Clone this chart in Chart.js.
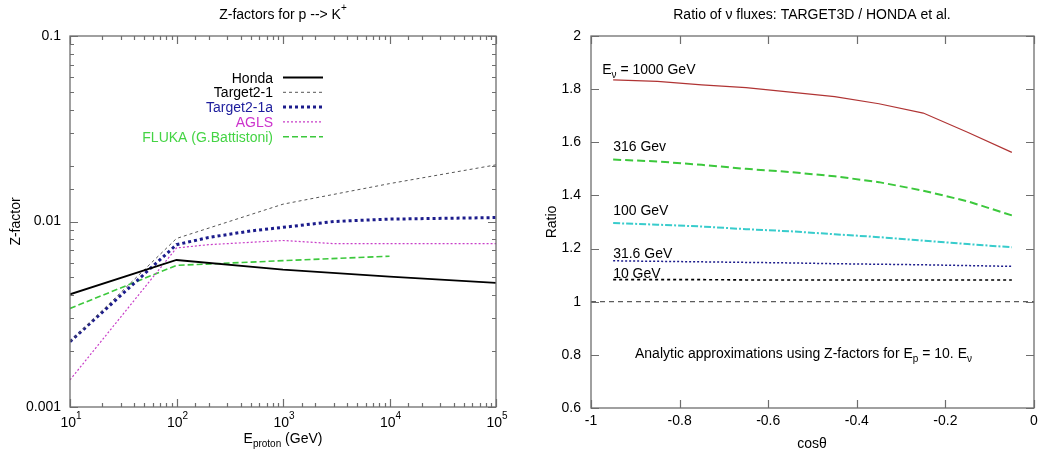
<!DOCTYPE html>
<html>
<head>
<meta charset="utf-8">
<title>Z-factors and neutrino flux ratios</title>
<script src="https://cdn.jsdelivr.net/npm/chart.js@4.4.1/dist/chart.umd.min.js"></script>
<style>
  body { margin: 0; background: #fff; }
  .panel { position: absolute; top: 0; height: 452px; }
  #left { left: 0; width: 520px; }
  #right { left: 520px; width: 519px; }
</style>
</head>
<body>
<div class="panel" id="left"><canvas id="zChart"></canvas></div>
<div class="panel" id="right"><canvas id="ratioChart"></canvas></div>
<script>
// Z-factors for p --> K+ versus proton energy (GeV)
var hondaE = [10, 100, 1000, 1e4, 1e5];
var hondaZ = [0.00405, 0.0062, 0.0055, 0.00505, 0.00467];
var target21E = [10, 100, 1000, 1e4, 1e5];
var target21Z = [0.00225, 0.0081, 0.0124, 0.0160, 0.0202];
var target21aE = [10, 100, 200, 500, 1000, 3000, 1e4, 1e5];
var target21aZ = [0.00225, 0.0075, 0.0082, 0.0089, 0.0093, 0.0100, 0.0103, 0.0105];
var aglsE = [10, 100, 200, 1000, 3000, 1e4, 1e5];
var aglsZ = [0.0014, 0.0072, 0.0075, 0.0079, 0.0076, 0.0076, 0.0076];
var flukaE = [10, 100, 1000, 1e4];
var flukaZ = [0.0034, 0.0058, 0.00615, 0.0065];
var zTickValues = [0.001, 0.01, 0.1];
var zTickLabels = ['0.001', '0.01', '0.1'];
var eTickExps = [1, 2, 3, 4, 5];

// Flux ratio TARGET3D / HONDA versus cos(theta)
var cosTheta = [-0.95, -0.85, -0.75, -0.65, -0.55, -0.45, -0.35, -0.25, -0.15, -0.05];
var ratio1000 = [1.835, 1.829, 1.816, 1.806, 1.789, 1.772, 1.745, 1.71, 1.638, 1.562];
var ratio316 = [1.535, 1.528, 1.515, 1.50, 1.488, 1.472, 1.45, 1.418, 1.378, 1.325];
var ratio100 = [1.296, 1.29, 1.283, 1.273, 1.265, 1.254, 1.243, 1.23, 1.217, 1.205];
var ratio31 = [1.154, 1.152, 1.15, 1.148, 1.146, 1.143, 1.141, 1.139, 1.136, 1.133];
var ratio10 = [1.083, 1.083, 1.083, 1.082, 1.082, 1.082, 1.082, 1.082, 1.082, 1.082];
var unityX = [-1, 0];
var unityY = [1, 1];

var FONT = "'Liberation Sans', Arial, Helvetica, sans-serif";
var FRAME = '#6e6e6e';

function pts(xs, ys) {
  return xs.map(function (x, i) { return { x: x, y: ys[i] }; });
}

function isDecade(v) {
  var e = Math.log10(v);
  return Math.abs(e - Math.round(e)) < 1e-6;
}

// text runs: [string, '' | 'sub' | 'sup']
function drawRich(ctx, parts, x, y, align, size) {
  var small = Math.round(size * 0.72);
  var widths = parts.map(function (p) {
    ctx.font = (p[1] ? small : size) + 'px ' + FONT;
    return ctx.measureText(p[0]).width;
  });
  var total = widths.reduce(function (a, b) { return a + b; }, 0);
  var cx = align === 'center' ? x - total / 2 : (align === 'right' ? x - total : x);
  ctx.textAlign = 'left';
  parts.forEach(function (p, i) {
    ctx.font = (p[1] ? small : size) + 'px ' + FONT;
    var dy = p[1] === 'sub' ? size * 0.32 : (p[1] === 'sup' ? -size * 0.55 : 0);
    ctx.fillText(p[0], cx, y + dy);
    cx += widths[i];
  });
}

// gnuplot-like box with inward ticks on all four sides
var frameTicks = {
  id: 'frameTicks',
  afterDatasetsDraw: function (chart) {
    var ctx = chart.ctx, a = chart.chartArea;
    ctx.save();
    ctx.setLineDash([]);
    ctx.strokeStyle = FRAME;
    ctx.lineWidth = 1.2;
    ctx.beginPath();
    ['x', 'y'].forEach(function (id) {
      var s = chart.scales[id];
      var log = s.type === 'logarithmic';
      s.getTicks().forEach(function (t) {
        var len = (!log || isDecade(t.value)) ? 8 : 4;
        var p = Math.round(s.getPixelForValue(t.value)) + 0.5;
        if (id === 'x') {
          ctx.moveTo(p, a.bottom); ctx.lineTo(p, a.bottom - len);
          ctx.moveTo(p, a.top); ctx.lineTo(p, a.top + len);
        } else {
          ctx.moveTo(a.left, p); ctx.lineTo(a.left + len, p);
          ctx.moveTo(a.right, p); ctx.lineTo(a.right - len, p);
        }
      });
    });
    ctx.stroke();
    ctx.lineWidth = 1.3;
    ctx.strokeRect(a.left, a.top, a.right - a.left, a.bottom - a.top);
    ctx.restore();
  }
};

function fixAxis(size) {
  return function (s) {
    if (s.isHorizontal()) { s.height = size; } else { s.width = size; }
    s.paddingLeft = s.paddingRight = s.paddingTop = s.paddingBottom = 0;
  };
}

// ---------- left panel ----------
var zText = {
  id: 'zText',
  afterDraw: function (chart) {
    var ctx = chart.ctx, a = chart.chartArea, x = chart.scales.x;
    ctx.save();
    ctx.fillStyle = '#000';
    ctx.textBaseline = 'alphabetic';
    drawRich(ctx, [['Z-factors for p --> K', ''], ['+', 'sup']], 283, 19, 'center', 14);
    drawRich(ctx, [['E', ''], ['proton', 'sub'], [' (GeV)', '']], 283, 443, 'center', 14);
    eTickExps.forEach(function (e) {
      drawRich(ctx, [['10', ''], [String(e), 'sup']], x.getPixelForValue(Math.pow(10, e)) + 1, 427, 'center', 14);
    });
    ctx.translate(16, (a.top + a.bottom) / 2);
    ctx.rotate(-Math.PI / 2);
    ctx.textBaseline = 'middle';
    drawRich(ctx, [['Z-factor', '']], 0, 0, 'center', 14);
    ctx.restore();

    // legend: right-aligned labels with line samples
    ctx.save();
    ctx.textBaseline = 'alphabetic';
    chart.data.datasets.forEach(function (ds, i) {
      var ly = 77.5 + i * 14.8;
      ctx.fillStyle = ds.labelColor;
      drawRich(ctx, [[ds.label, '']], 273, ly + 5, 'right', 14);
      ctx.strokeStyle = ds.borderColor;
      ctx.lineWidth = ds.borderWidth;
      ctx.setLineDash(ds.borderDash || []);
      ctx.beginPath();
      ctx.moveTo(283, ly);
      ctx.lineTo(323, ly);
      ctx.stroke();
    });
    ctx.restore();
  }
};

new Chart(document.getElementById('zChart').getContext('2d'), {
  type: 'scatter',
  data: {
    datasets: [
      { label: 'Honda', data: pts(hondaE, hondaZ), borderColor: '#000000', labelColor: '#000000',
        borderWidth: 1.8 },
      { label: 'Target2-1', data: pts(target21E, target21Z), borderColor: '#555555', labelColor: '#000000',
        borderWidth: 1, borderDash: [3, 3] },
      { label: 'Target2-1a', data: pts(target21aE, target21aZ), borderColor: '#1c1c8c', labelColor: '#1c1c9c',
        borderWidth: 3, borderDash: [3, 3] },
      { label: 'AGLS', data: pts(aglsE, aglsZ), borderColor: '#c83ec8', labelColor: '#cc33cc',
        borderWidth: 1.2, borderDash: [2, 2] },
      { label: 'FLUKA (G.Battistoni)', data: pts(flukaE, flukaZ), borderColor: '#3cc83c', labelColor: '#44d444',
        borderWidth: 1.6, borderDash: [6, 3] }
    ]
  },
  options: {
    responsive: true,
    maintainAspectRatio: false,
    animation: false,
    showLine: true,
    elements: { point: { radius: 0, hoverRadius: 0 }, line: { tension: 0 } },
    layout: { padding: { top: 36, right: 24, left: 0, bottom: 0 } },
    plugins: { legend: { display: false }, tooltip: { enabled: false } },
    scales: {
      x: {
        type: 'logarithmic', min: 10, max: 1e5,
        grid: { display: false, drawTicks: false }, border: { display: false },
        ticks: { display: false, autoSkip: false },
        afterFit: fixAxis(45)
      },
      y: {
        type: 'logarithmic', min: 0.001, max: 0.1,
        grid: { display: false, drawTicks: false }, border: { display: false },
        ticks: {
          autoSkip: false, padding: 9, color: '#000', font: { family: FONT, size: 14 },
          callback: function (v) {
            var k = zTickValues.findIndex(function (t) { return Math.abs(t - v) / t < 1e-6; });
            return k < 0 ? '' : zTickLabels[k];
          }
        },
        afterFit: fixAxis(70)
      }
    }
  },
  plugins: [frameTicks, zText]
});

// ---------- right panel ----------
var ratioText = {
  id: 'ratioText',
  afterDraw: function (chart) {
    var ctx = chart.ctx, a = chart.chartArea;
    var sx = chart.scales.x, sy = chart.scales.y;
    var x0 = sx.getPixelForValue(cosTheta[0]);
    ctx.save();
    ctx.fillStyle = '#000';
    ctx.textBaseline = 'alphabetic';
    drawRich(ctx, [['Ratio of \u03bd fluxes: TARGET3D / HONDA et al.', '']], 292, 19, 'center', 14);
    drawRich(ctx, [['cos\u03b8', '']], 292, 448, 'center', 14);
    drawRich(ctx, [['E', ''], ['\u03bd', 'sub'], [' = 1000 GeV', '']], x0 - 11, sy.getPixelForValue(ratio1000[0]) - 6, 'left', 14);
    drawRich(ctx, [['316 Gev', '']], x0, sy.getPixelForValue(ratio316[0]) - 9, 'left', 14);
    drawRich(ctx, [['100 GeV', '']], x0, sy.getPixelForValue(ratio100[0]) - 8, 'left', 14);
    drawRich(ctx, [['31.6 GeV', '']], x0, sy.getPixelForValue(ratio31[0]) - 3, 'left', 14);
    drawRich(ctx, [['10 GeV', '']], x0, sy.getPixelForValue(ratio10[0]) - 2, 'left', 14);
    drawRich(ctx, [['Analytic approximations using Z-factors for E', ''], ['p', 'sub'], [' = 10. E', ''], ['\u03bd', 'sub']],
      115, 358, 'left', 14);
    ctx.translate(32, (a.top + a.bottom) / 2);
    ctx.rotate(-Math.PI / 2);
    ctx.textBaseline = 'middle';
    drawRich(ctx, [['Ratio', '']], 0, 0, 'center', 14);
    ctx.restore();
  }
};

function decimalLabel(v) {
  return String(Math.round(v * 10) / 10);
}

new Chart(document.getElementById('ratioChart').getContext('2d'), {
  type: 'scatter',
  data: {
    datasets: [
      { label: '1000 GeV', data: pts(cosTheta, ratio1000), borderColor: '#b03434', borderWidth: 1.2 },
      { label: '316 GeV', data: pts(cosTheta, ratio316), borderColor: '#3cc83c', borderWidth: 2, borderDash: [8, 4] },
      { label: '100 GeV', data: pts(cosTheta, ratio100), borderColor: '#38cccc', borderWidth: 2, borderDash: [7, 2, 2, 2] },
      { label: '31.6 GeV', data: pts(cosTheta, ratio31), borderColor: '#1c1c8c', borderWidth: 1.5, borderDash: [2, 2] },
      { label: '10 GeV', data: pts(cosTheta, ratio10), borderColor: '#000000', borderWidth: 1.6, borderDash: [3, 3] },
      { label: 'unity', data: pts(unityX, unityY), borderColor: '#333333', borderWidth: 1, borderDash: [5, 4] }
    ]
  },
  options: {
    responsive: true,
    maintainAspectRatio: false,
    animation: false,
    showLine: true,
    elements: { point: { radius: 0, hoverRadius: 0 }, line: { tension: 0 } },
    layout: { padding: { top: 36, right: 5, left: 0, bottom: 0 } },
    plugins: { legend: { display: false }, tooltip: { enabled: false } },
    scales: {
      x: {
        type: 'linear', min: -1, max: 0,
        grid: { display: false, drawTicks: false }, border: { display: false },
        ticks: { stepSize: 0.2, padding: 5, color: '#000', font: { family: FONT, size: 14 }, callback: decimalLabel },
        afterFit: fixAxis(44)
      },
      y: {
        type: 'linear', min: 0.6, max: 2,
        grid: { display: false, drawTicks: false }, border: { display: false },
        ticks: { stepSize: 0.2, padding: 10, color: '#000', font: { family: FONT, size: 14 }, callback: decimalLabel },
        afterFit: fixAxis(71)
      }
    }
  },
  plugins: [frameTicks, ratioText]
});
</script>
</body>
</html>
